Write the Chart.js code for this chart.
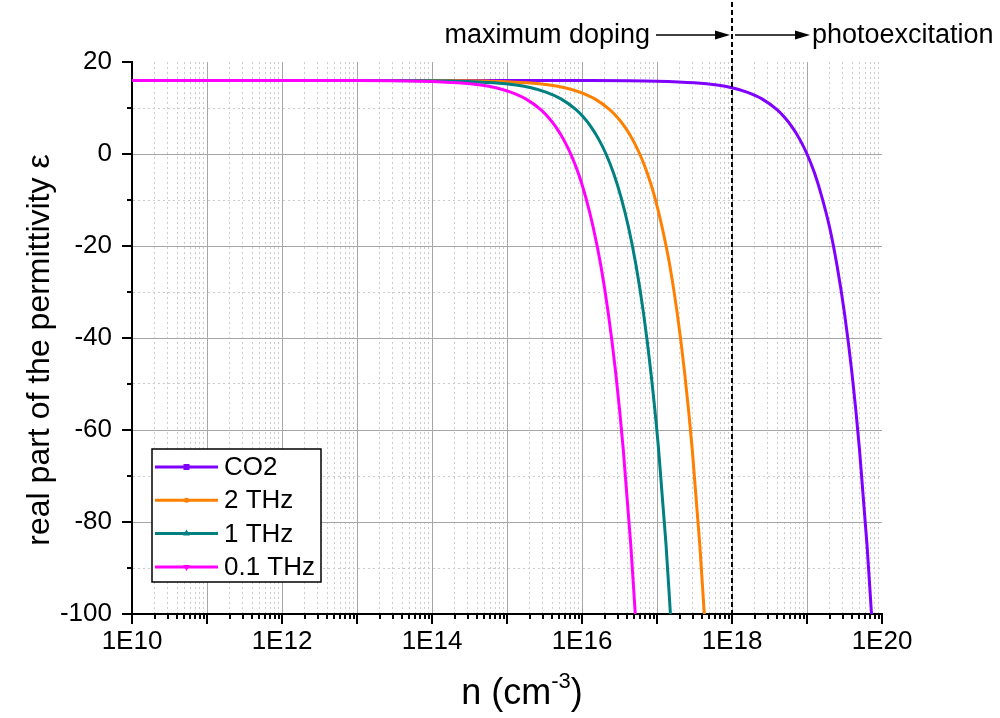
<!DOCTYPE html>
<html>
<head>
<meta charset="utf-8">
<script src="https://cdn.jsdelivr.net/npm/chart.js@4.4.0/dist/chart.umd.min.js"></script>
<style>
  html, body { margin: 0; padding: 0; background: #fff; }
</style>
</head>
<body>
<canvas id="myChart" width="1000" height="718"></canvas>
<script>
    // carrier density n (cm^-3) and real part of the permittivity
    var nCO2 = [1e10, 1e14, 1e16, 1e17, 3.16e17, 6.31e17, 1e18, 1.58e18, 2.51e18, 3.98e18, 5.01e18, 6.31e18, 7.94e18, 1e19, 1.26e19, 1.58e19, 2.0e19, 2.51e19, 3.16e19, 3.98e19, 5.01e19, 6.31e19, 7.24e19];
    var epsCO2 = [16.0, 16.0, 15.98, 15.84, 15.49, 14.99, 14.40, 13.46, 11.98, 9.63, 7.98, 5.90, 3.29, 0, -4.14, -9.36, -15.92, -24.19, -34.60, -47.70, -64.19, -84.95, -100];

    var n2THz = [1e10, 5.89e13, 5.89e14, 1.86e15, 3.72e15, 5.89e15, 9.33e15, 1.48e16, 2.34e16, 2.95e16, 3.72e16, 4.68e16, 5.89e16, 7.41e16, 9.33e16, 1.17e17, 1.48e17, 1.86e17, 2.34e17, 2.95e17, 3.72e17, 4.27e17];
    var eps2THz = [16.0, 15.98, 15.84, 15.49, 14.99, 14.40, 13.46, 11.98, 9.63, 7.98, 5.90, 3.29, 0, -4.14, -9.36, -15.92, -24.19, -34.60, -47.70, -64.19, -84.95, -100];

    var n1THz = [1e10, 2.09e13, 2.09e14, 6.61e14, 1.32e15, 2.09e15, 3.31e15, 5.25e15, 8.32e15, 1.05e16, 1.32e16, 1.66e16, 2.09e16, 2.63e16, 3.31e16, 4.17e16, 5.25e16, 6.61e16, 8.32e16, 1.05e17, 1.32e17, 1.51e17];
    var eps1THz = [16.0, 15.98, 15.84, 15.49, 14.99, 14.40, 13.46, 11.98, 9.63, 7.98, 5.90, 3.29, 0, -4.14, -9.36, -15.92, -24.19, -34.60, -47.70, -64.19, -84.95, -100];

    var n01THz = [1e10, 7.08e12, 7.08e13, 2.24e14, 4.47e14, 7.08e14, 1.12e15, 1.78e15, 2.82e15, 3.55e15, 4.47e15, 5.62e15, 7.08e15, 8.91e15, 1.12e16, 1.41e16, 1.78e16, 2.24e16, 2.82e16, 3.55e16, 4.47e16, 5.13e16];
    var eps01THz = [16.0, 15.98, 15.84, 15.49, 14.99, 14.40, 13.46, 11.98, 9.63, 7.98, 5.90, 3.29, 0, -4.14, -9.36, -15.92, -24.19, -34.60, -47.70, -64.19, -84.95, -100];

    var seriesLabels = ['CO2', '2 THz', '1 THz', '0.1 THz'];
    var seriesColors = ['#7f00ff', '#ff8000', '#008080', '#ff00ff'];
    var markers = ['rect', 'circle', 'triUp', 'triDown'];

    var xMin = 1e10, xMax = 1e20;
    var yMin = -100, yMax = 20;
    var dopingLimit = 1e18;

    var FONT = "'Liberation Sans', Arial, sans-serif";

    function pts(xs, ys) {
        var out = [];
        for (var i = 0; i < xs.length; i++) out.push({x: xs[i], y: ys[i]});
        return out;
    }
    function isDecade(v) {
        var lg = Math.log10(v);
        return Math.abs(lg - Math.round(lg)) < 1e-9;
    }

    var xs = [nCO2, n2THz, n1THz, n01THz];
    var ys = [epsCO2, eps2THz, eps1THz, eps01THz];
    var datasets = [];
    for (var i = 0; i < 4; i++) {
        datasets.push({
            label: seriesLabels[i],
            data: pts(xs[i], ys[i]),
            borderColor: seriesColors[i],
            backgroundColor: seriesColors[i],
            borderWidth: 3,
            pointRadius: 0,
            cubicInterpolationMode: 'monotone',
            order: 4 - i
        });
    }

    var decorations = {
        id: 'decorations',
        afterDraw: function(chart) {
            var ctx = chart.ctx;
            var xs = chart.scales.x, ys = chart.scales.y;
            var a = chart.chartArea;
            ctx.save();

            // tick marks (outward, black)
            ctx.strokeStyle = '#000';
            ctx.lineWidth = 2;
            ctx.beginPath();
            xs.ticks.forEach(function(t) {
                var px = Math.round(xs.getPixelForValue(t.value));
                var len = isDecade(t.value) ? 10 : 5;
                ctx.moveTo(px, a.bottom);
                ctx.lineTo(px, a.bottom + len);
            });
            ys.ticks.forEach(function(t) {
                var py = Math.round(ys.getPixelForValue(t.value));
                var len = (t.value % 20 === 0) ? 10 : 5;
                ctx.moveTo(a.left, py);
                ctx.lineTo(a.left - len, py);
            });
            ctx.stroke();

            // dashed line at maximum doping
            var lx = Math.round(xs.getPixelForValue(dopingLimit));
            ctx.setLineDash([5, 3]);
            ctx.beginPath();
            ctx.moveTo(lx, 2);
            ctx.lineTo(lx, a.bottom);
            ctx.stroke();
            ctx.setLineDash([]);

            // arrows and labels
            function arrow(x0, x1, y) {
                ctx.lineWidth = 1.5;
                ctx.beginPath();
                ctx.moveTo(x0, y);
                ctx.lineTo(x1 - 12, y);
                ctx.stroke();
                ctx.beginPath();
                ctx.moveTo(x1, y);
                ctx.lineTo(x1 - 15, y - 4.5);
                ctx.lineTo(x1 - 15, y + 4.5);
                ctx.closePath();
                ctx.fill();
            }
            ctx.fillStyle = '#000';
            var ay = 35;
            arrow(lx - 76, lx - 2, ay);
            arrow(lx + 3, lx + 78, ay);
            ctx.font = '27px ' + FONT;
            ctx.textBaseline = 'alphabetic';
            ctx.textAlign = 'right';
            ctx.fillText('maximum doping', lx - 82, 43);
            ctx.textAlign = 'left';
            ctx.fillText('photoexcitation', lx + 80, 43);

            // axis titles
            var big = '36px ' + FONT, small = '22px ' + FONT;
            ctx.font = big;
            ctx.textAlign = 'left';
            var cx = 522;
            var base = 704;
            var w1 = ctx.measureText('n (cm').width;
            ctx.font = small;
            var w2 = ctx.measureText('-3').width;
            ctx.font = big;
            var w3 = ctx.measureText(')').width;
            var sx = cx - (w1 + w2 + w3) / 2;
            ctx.fillText('n (cm', sx, base);
            ctx.font = small;
            ctx.fillText('-3', sx + w1, base - 16);
            ctx.font = big;
            ctx.fillText(')', sx + w1 + w2, base);

            ctx.save();
            ctx.translate(49, 350);
            ctx.rotate(-Math.PI / 2);
            ctx.textAlign = 'center';
            ctx.font = '32px ' + FONT;
            ctx.fillText('real part of the permittivity \u03b5', 0, 0);
            ctx.restore();

            // legend
            var lb = {x: 152, y: 449, w: 169, h: 133};
            ctx.fillStyle = '#fff';
            ctx.fillRect(lb.x, lb.y, lb.w, lb.h);
            ctx.strokeStyle = '#000';
            ctx.lineWidth = 1.5;
            ctx.strokeRect(lb.x, lb.y, lb.w, lb.h);
            ctx.font = '26px ' + FONT;
            ctx.textBaseline = 'middle';
            ctx.textAlign = 'left';
            chart.data.datasets.forEach(function(ds, k) {
                var ry = 467 + k * 33.3;
                ctx.strokeStyle = ds.borderColor;
                ctx.fillStyle = ds.borderColor;
                ctx.lineWidth = 3;
                ctx.beginPath();
                ctx.moveTo(155, ry);
                ctx.lineTo(218, ry);
                ctx.stroke();
                var mx = 186.5;
                ctx.beginPath();
                if (markers[k] === 'rect') {
                    ctx.rect(mx - 3, ry - 3, 6, 6);
                } else if (markers[k] === 'circle') {
                    ctx.arc(mx, ry, 2.5, 0, Math.PI * 2);
                } else if (markers[k] === 'triUp') {
                    ctx.moveTo(mx, ry - 4); ctx.lineTo(mx + 3.5, ry + 2); ctx.lineTo(mx - 3.5, ry + 2);
                } else {
                    ctx.moveTo(mx, ry + 4); ctx.lineTo(mx + 3.5, ry - 2); ctx.lineTo(mx - 3.5, ry - 2);
                }
                ctx.closePath();
                ctx.fill();
                ctx.fillStyle = '#000';
                ctx.fillText(ds.label, 224, ry + 1);
            });
            ctx.restore();
        }
    };

    var ctx = document.getElementById('myChart').getContext('2d');
    var chart = new Chart(ctx, {
        type: 'line',
        data: { datasets: datasets },
        options: {
            responsive: false,
            animation: false,
            events: [],
            layout: { padding: { top: 62, right: 118, left: 0, bottom: 0 } },
            plugins: { legend: { display: false }, tooltip: { enabled: false } },
            scales: {
                x: {
                    type: 'logarithmic',
                    min: xMin,
                    max: xMax,
                    afterBuildTicks: function(scale) {
                        var t = [];
                        for (var e = 10; e < 20; e++) {
                            for (var m = 1; m < 10; m++) t.push({value: m * Math.pow(10, e)});
                        }
                        t.push({value: xMax});
                        scale.ticks = t;
                    },
                    afterFit: function(scale) { scale.height = 104; },
                    ticks: {
                        autoSkip: false,
                        maxRotation: 0,
                        padding: 12,
                        color: '#000',
                        font: { family: FONT, size: 26 },
                        callback: function(v) {
                            if (!isDecade(v)) return '';
                            var e = Math.round(Math.log10(v));
                            return e % 2 === 0 ? '1E' + e : '';
                        }
                    },
                    grid: {
                        drawTicks: false,
                        lineWidth: 1,
                        color: function(c) {
                            if (!c.tick) return 'rgba(0,0,0,0)';
                            var v = c.tick.value;
                            if (v <= xMin || v >= xMax) return 'rgba(0,0,0,0)';
                            return isDecade(v) ? '#a6a6a6' : '#cccccc';
                        }
                    },
                    border: {
                        color: '#000',
                        width: 2,
                        dash: function(c) {
                            if (!c.tick) return [];
                            return isDecade(c.tick.value) ? [] : [2, 3];
                        }
                    }
                },
                y: {
                    min: yMin,
                    max: yMax,
                    afterFit: function(scale) { scale.width = 132; },
                    ticks: {
                        stepSize: 10,
                        padding: 20,
                        color: '#000',
                        font: { family: FONT, size: 26 },
                        callback: function(v) { return v % 20 === 0 ? String(v) : ''; }
                    },
                    grid: {
                        drawTicks: false,
                        lineWidth: 1,
                        color: function(c) {
                            if (!c.tick) return 'rgba(0,0,0,0)';
                            var v = c.tick.value;
                            if (v <= yMin || v >= yMax) return 'rgba(0,0,0,0)';
                            return v % 20 === 0 ? '#a6a6a6' : '#cccccc';
                        }
                    },
                    border: {
                        color: '#000',
                        width: 2,
                        dash: function(c) {
                            if (!c.tick) return [];
                            return c.tick.value % 20 === 0 ? [] : [2, 3];
                        }
                    }
                }
            }
        },
        plugins: [decorations]
    });
</script>
</body>
</html>
